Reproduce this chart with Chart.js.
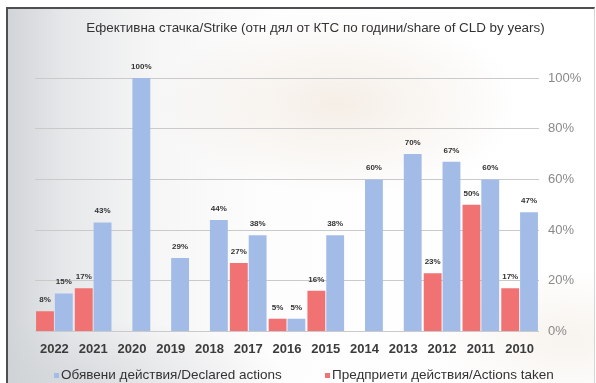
<!DOCTYPE html>
<html>
<head>
<meta charset="utf-8">
<script src="https://cdn.jsdelivr.net/npm/chart.js@4/dist/chart.umd.min.js"></script>
<style>
  html, body { margin: 0; padding: 0; background: #fff; }
  #wrap { position: relative; width: 596px; height: 383px; overflow: hidden; }
  #frame {
    position: absolute; left: 6px; top: 7px; width: 586px; height: 380px;
    border-left: 2px solid #4d4f52; border-top: 2px solid #4d4f52; border-right: 1px solid #d6d6d6;
    background:
      radial-gradient(ellipse 180px 90px at 330px 95px, rgba(238, 226, 212, 0.55), rgba(238, 226, 212, 0)),
      radial-gradient(ellipse 140px 70px at 560px 330px, rgba(240, 232, 222, 0.5), rgba(240, 232, 222, 0)),
      radial-gradient(ellipse 220px 60px at 60px 370px, rgba(205, 208, 212, 0.6), rgba(205, 208, 212, 0)),
      linear-gradient(to right, #d2d5d8 0%, #e6e8ea 10%, #f6f6f6 25%, #fdfdfd 45%, #ffffff 100%);
  }
  canvas { position: absolute; left: 0; top: 0; }
</style>
</head>
<body>
<div id="wrap">
  <div id="frame"></div>
  <canvas id="strikeChart" width="596" height="383"></canvas>
</div>
<script>
const years = ['2022', '2021', '2020', '2019', '2018', '2017', '2016', '2015', '2014', '2013', '2012', '2011', '2010'];
const declared = [15, 43, 100, 29, 44, 38, 5, 38, 60, 70, 67, 60, 47];
const taken = [8, 17, null, null, null, 27, 5, 16, null, null, 23, 50, 17];
const yTicks = [0, 20, 40, 60, 80, 100];

const declaredLabel = 'Обявени действия/Declared actions';
const takenLabel = 'Предприети действия/Actions taken';
const blue = '#a3bce7';
const red = '#f07272';
const fontFamily = '"Liberation Sans", Arial, sans-serif';

// value labels above each bar
const barValues = {
  id: 'barValues',
  afterDatasetsDraw(chart) {
    const ctx = chart.ctx;
    ctx.save();
    ctx.font = 'bold 8px ' + fontFamily;
    ctx.fillStyle = '#333';
    ctx.textAlign = 'center';
    ctx.textBaseline = 'alphabetic';
    chart.data.datasets.forEach((ds, i) => {
      chart.getDatasetMeta(i).data.forEach((bar, j) => {
        const v = ds.data[j];
        if (v == null) return;
        ctx.fillText(v + '%', bar.x, bar.y - 9);
      });
    });
    ctx.restore();
  }
};

// legend row under the axis
const bottomLegend = {
  id: 'bottomLegend',
  afterDraw(chart) {
    const ctx = chart.ctx;
    const items = [
      { text: declaredLabel, color: blue, x: 54 },
      { text: takenLabel, color: red, x: 325 }
    ];
    const y = 375;
    ctx.save();
    ctx.font = '13.5px ' + fontFamily;
    ctx.textBaseline = 'middle';
    ctx.textAlign = 'left';
    items.forEach(it => {
      ctx.fillStyle = it.color;
      ctx.fillRect(it.x, y - 2, 5, 5);
      ctx.fillStyle = '#333';
      ctx.fillText(it.text, it.x + 7, y);
    });
    ctx.restore();
  }
};

new Chart('strikeChart', {
  type: 'bar',
  data: {
    labels: years,
    datasets: [
      {
        label: takenLabel,
        data: taken,
        backgroundColor: red,
        categoryPercentage: 0.97,
        barPercentage: 0.95
      },
      {
        label: declaredLabel,
        data: declared,
        backgroundColor: blue,
        categoryPercentage: 0.97,
        barPercentage: 0.95
      }
    ]
  },
  options: {
    responsive: false,
    animation: false,
    layout: { padding: { left: 35, right: 0, top: 10, bottom: 24 } },
    plugins: {
      legend: { display: false },
      tooltip: { enabled: false },
      title: {
        display: true,
        text: 'Ефективна стачка/Strike (отн дял от КТС по години/share of CLD by years)',
        color: '#333',
        font: { family: fontFamily, size: 13.4, weight: 'normal' },
        padding: { top: 10, bottom: 42 }
      }
    },
    scales: {
      x: {
        grid: { display: false },
        border: { display: false },
        ticks: {
          color: '#3c3c3c',
          padding: 2,
          font: { family: fontFamily, size: 13, weight: 'bold' }
        }
      },
      y: {
        position: 'right',
        min: 0,
        max: 100,
        afterBuildTicks(axis) { axis.ticks = yTicks.map(v => ({ value: v })); },
        afterFit(axis) { axis.width = 57; },
        grid: { color: '#cacaca', drawTicks: false },
        border: { display: false },
        ticks: {
          color: '#8a8a8a',
          padding: 9,
          font: { family: fontFamily, size: 13 },
          callback: v => v + '%'
        }
      }
    }
  },
  plugins: [barValues, bottomLegend]
});
</script>
</body>
</html>
